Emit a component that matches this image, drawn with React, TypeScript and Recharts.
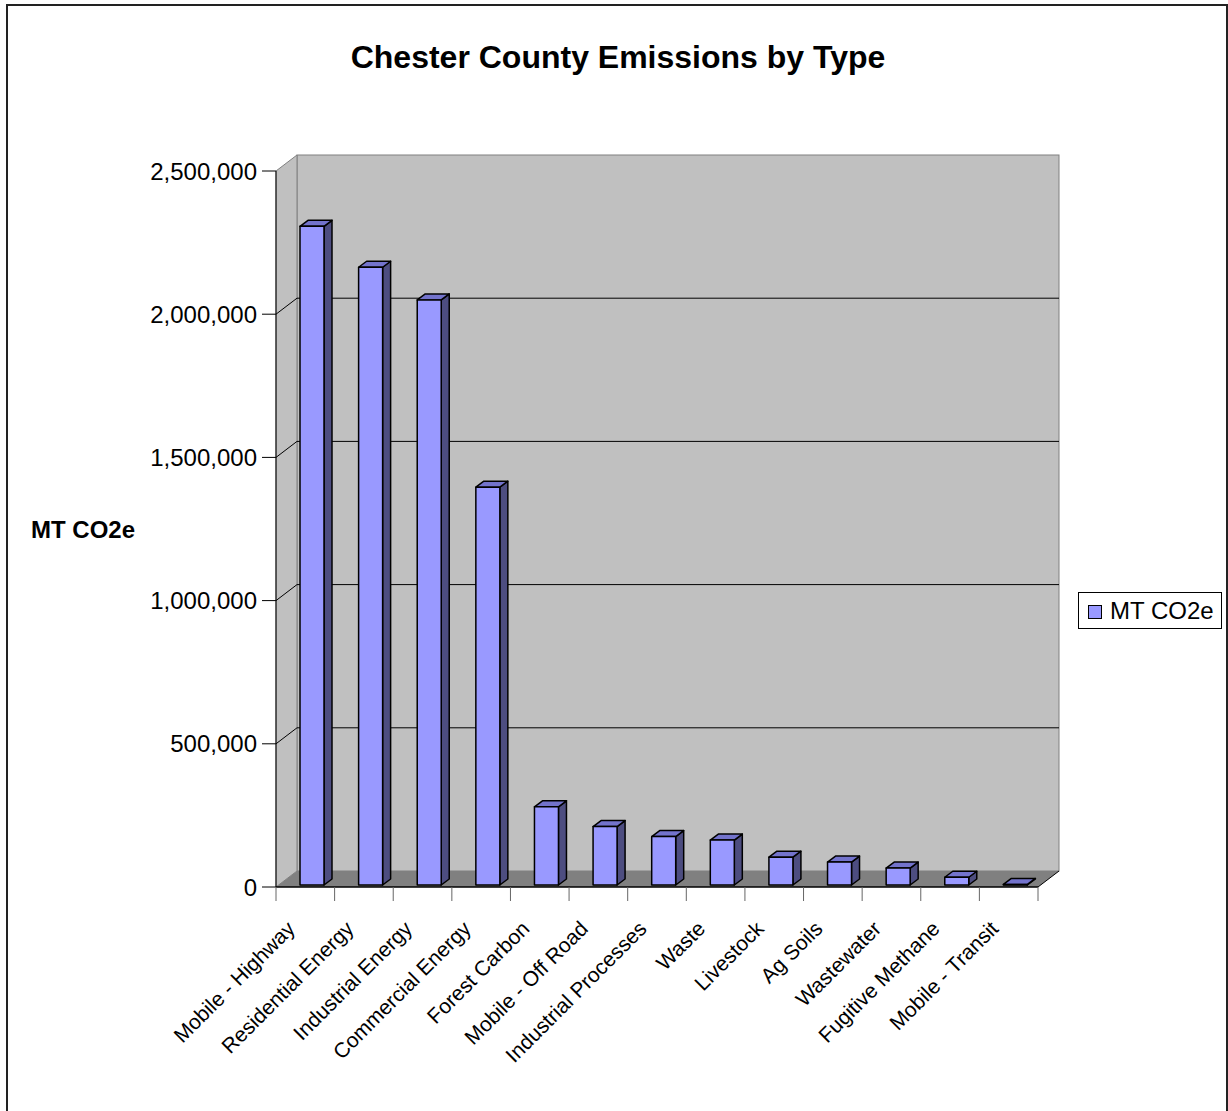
import React from "react";
import { BarChart, Bar, XAxis, YAxis, ReferenceArea } from "recharts";

// Emission sources and their totals (metric tons CO2 equivalent)
const CATEGORIES = [
  "Mobile - Highway",
  "Residential Energy",
  "Industrial Energy",
  "Commercial Energy",
  "Forest Carbon",
  "Mobile - Off Road",
  "Industrial Processes",
  "Waste",
  "Livestock",
  "Ag Soils",
  "Wastewater",
  "Fugitive Methane",
  "Mobile - Transit",
];
const EMISSIONS = [
  2300000, 2157000, 2043000, 1389000, 273000, 204000, 169000, 157000, 97000,
  80000, 59000, 27000, 2000,
];
const Y_TICKS = [0, 500000, 1000000, 1500000, 2000000, 2500000];
const Y_MAX = 2500000;

const SERIES_NAME = "MT CO2e";
const TITLE = "Chester County Emissions by Type";

const data = CATEGORIES.map((name, i) => ({ name, value: EMISSIONS[i] }));

const FONT = "'Liberation Sans', Arial, Helvetica, sans-serif";

// depth of the chart box (back wall offset from the front plane)
const WALL_DX = 21;
const WALL_DY = 16;
// column placement within the box and column depth
const FACE_DX = 7;
const FACE_DY = 2;
const COL_DX = 8;
const COL_DY = 6;
const CAT_TICK_LEN = 14;

const FRONT = "#9999FF";
const TOP = "#7373CC";
const SIDE = "#4D4D80";

const fmt = (v: number) => v.toLocaleString("en-US");

function Walls(props: any) {
  const { x, y, width, height } = props;
  const bottom = y + height;
  return (
    <g>
      {/* back wall */}
      <rect
        x={x + WALL_DX}
        y={y - WALL_DY}
        width={width}
        height={height}
        fill="#C0C0C0"
        stroke="#808080"
        strokeWidth={1}
      />
      {/* side wall */}
      <polygon
        points={`${x},${y} ${x + WALL_DX},${y - WALL_DY} ${x + WALL_DX},${bottom - WALL_DY} ${x},${bottom}`}
        fill="#C0C0C0"
        stroke="#808080"
        strokeWidth={1}
      />
      {/* gridlines wrapping side and back walls */}
      {Y_TICKS.filter((t) => t > 0 && t < Y_MAX).map((t) => {
        const yy = y + height * (1 - t / Y_MAX);
        return (
          <polyline
            key={t}
            points={`${x},${yy} ${x + WALL_DX},${yy - WALL_DY} ${x + width + WALL_DX},${yy - WALL_DY}`}
            fill="none"
            stroke="#000"
            strokeWidth={1}
          />
        );
      })}
      {/* floor */}
      <polygon
        points={`${x},${bottom} ${x + WALL_DX},${bottom - WALL_DY} ${x + width + WALL_DX},${bottom - WALL_DY} ${x + width},${bottom}`}
        fill="#808080"
        stroke="none"
      />
      <line
        x1={x + width}
        y1={bottom}
        x2={x + width + WALL_DX}
        y2={bottom - WALL_DY}
        stroke="#000"
        strokeWidth={1}
      />
    </g>
  );
}

function Column(props: any) {
  const { x, y, width, height } = props;
  if (x == null || y == null) return null;
  const fx = x + FACE_DX;
  const fy = y - FACE_DY;
  const h = Math.max(height, 0.5);
  const stroke = { stroke: "#000", strokeWidth: 1.5, strokeLinejoin: "round" as const };
  return (
    <g>
      <polygon
        points={`${fx + width},${fy} ${fx + width + COL_DX},${fy - COL_DY} ${fx + width + COL_DX},${fy + h - COL_DY} ${fx + width},${fy + h}`}
        fill={SIDE}
        {...stroke}
      />
      <polygon
        points={`${fx},${fy} ${fx + COL_DX},${fy - COL_DY} ${fx + width + COL_DX},${fy - COL_DY} ${fx + width},${fy}`}
        fill={TOP}
        {...stroke}
      />
      <rect x={fx} y={fy} width={width} height={h} fill={FRONT} {...stroke} />
    </g>
  );
}

// Category label plus tick marks at the band boundaries
function CategoryTick(props: any) {
  const { x, y, payload, index, visibleTicksCount } = props;
  const half = payload.offset ?? 0;
  const ax = x - 9;
  const ay = y + 43;
  const left = payload.coordinate - half;
  const right = payload.coordinate + half;
  const isLast = index === visibleTicksCount - 1;
  return (
    <g>
      <line x1={left} y1={y} x2={left} y2={y + CAT_TICK_LEN} stroke="#666" strokeWidth={1} />
      {isLast && (
        <line x1={right} y1={y} x2={right} y2={y + CAT_TICK_LEN} stroke="#666" strokeWidth={1} />
      )}
      <text
        x={ax}
        y={ay}
        transform={`rotate(-45, ${ax}, ${ay})`}
        textAnchor="end"
        fontSize={21}
        fontFamily={FONT}
        fill="#000"
      >
        {payload.value}
      </text>
    </g>
  );
}

export default function App() {
  return (
    <div
      style={{
        position: "absolute",
        left: 0,
        top: 0,
        width: 1228,
        height: 1111,
        overflow: "hidden",
        background: "#fff",
        fontFamily: FONT,
      }}
    >
      <div
        style={{
          position: "absolute",
          left: 6,
          top: 4,
          width: 1222,
          height: 1200,
          border: "2px solid #222",
          boxSizing: "border-box",
        }}
      />
      <div
        style={{
          position: "absolute",
          left: 0,
          top: 41,
          width: 1236,
          textAlign: "center",
          fontSize: 32,
          lineHeight: "32px",
          fontWeight: "bold",
          color: "#000",
        }}
      >
        {TITLE}
      </div>
      <div style={{ position: "absolute", left: 0, top: 0 }}>
        <BarChart
          width={1228}
          height={1111}
          data={data}
          margin={{ top: 171, right: 190, bottom: 0, left: 0 }}
          barSize={24}
        >
          <XAxis
            dataKey="name"
            type="category"
            interval={0}
            height={224}
            axisLine={{ stroke: "#000", strokeWidth: 1.5 }}
            tickLine={false}
            tickSize={0}
            tickMargin={0}
            tick={<CategoryTick />}
          />
          <YAxis
            type="number"
            domain={[0, Y_MAX]}
            ticks={Y_TICKS}
            width={276}
            tickSize={14}
            tickMargin={5}
            tickFormatter={fmt}
            axisLine={{ stroke: "#000", strokeWidth: 1 }}
            tickLine={{ stroke: "#000", strokeWidth: 1 }}
            tick={{ fontSize: 24, fill: "#000", fontFamily: FONT }}
            label={{
              value: SERIES_NAME,
              position: "insideLeft",
              offset: 31,
              fontSize: 24,
              fontWeight: "bold",
              fill: "#000",
              fontFamily: FONT,
            }}
          />
          <ReferenceArea
            y1={0}
            y2={Y_MAX}
            ifOverflow="visible"
            shape={<Walls />}
          />
          <Bar
            dataKey="value"
            name={SERIES_NAME}
            isAnimationActive={false}
            shape={<Column />}
          />
        </BarChart>
      </div>
      {/* legend */}
      <div
        style={{
          position: "absolute",
          left: 1078,
          top: 592,
          width: 144,
          height: 37,
          border: "1px solid #000",
          boxSizing: "border-box",
          background: "#fff",
        }}
      >
        <div
          style={{
            position: "absolute",
            left: 9,
            top: 12,
            width: 14,
            height: 14,
            background: FRONT,
            border: "1px solid #000",
            boxSizing: "border-box",
          }}
        />
        <div
          style={{
            position: "absolute",
            left: 31,
            top: 4,
            fontSize: 24,
            lineHeight: "28px",
            color: "#000",
            whiteSpace: "nowrap",
          }}
        >
          {SERIES_NAME}
        </div>
      </div>
    </div>
  );
}
